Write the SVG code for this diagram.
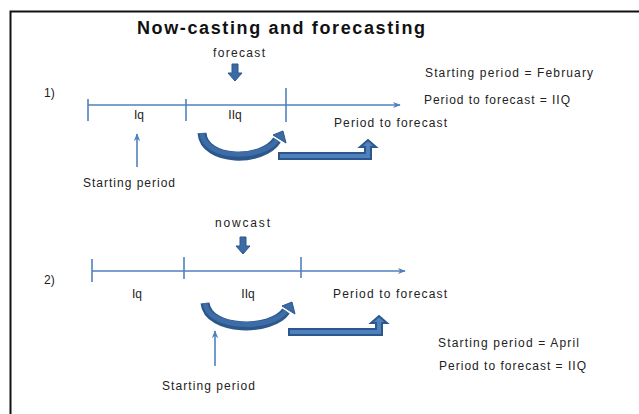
<svg xmlns="http://www.w3.org/2000/svg" width="639" height="414" viewBox="0 0 639 414">
<style>
text{font-family:"Liberation Sans",Arial,sans-serif;fill:#222;font-size:12px}
.title{font-size:18px;font-weight:bold;fill:#111}
.tl{stroke:#4F81BD;stroke-width:1.6;fill:none}
.blk{fill:#3B6AA4;stroke:#2C578C;stroke-width:1}
.thick{fill:#4F81BD;stroke:#2C578C;stroke-width:2}
</style>
<defs>
<marker id="ah" viewBox="0 0 10 10" refX="9" refY="5" markerWidth="8" markerHeight="8" orient="auto" markerUnits="userSpaceOnUse">
<path d="M0,1 L10,5 L0,9 L3,5 Z" fill="#4F81BD"/>
</marker>
</defs>
<rect x="10.5" y="11.5" width="640" height="420" fill="#fff" stroke="#111" stroke-width="2"/>
<text class="title" x="137" y="34" textLength="288" lengthAdjust="spacing">Now-casting and forecasting</text>

<g id="scenario1">
<text x="44" y="97">1)</text>
<text x="213" y="57" textLength="52" lengthAdjust="spacing">forecast</text>
<text x="425" y="77" textLength="168" lengthAdjust="spacing">Starting period = February</text>
<text x="424" y="104" textLength="146" lengthAdjust="spacing">Period to forecast = IIQ</text>
<text x="139" y="119" text-anchor="middle">Iq</text>
<text x="235" y="119" text-anchor="middle">IIq</text>
<text x="334" y="127" textLength="113" lengthAdjust="spacing">Period to forecast</text>
<text x="83" y="187" textLength="92" lengthAdjust="spacing">Starting period</text>
</g>

<g id="scenario2">
<text x="44" y="284">2)</text>
<text x="215" y="227" textLength="55" lengthAdjust="spacing">nowcast</text>
<text x="438" y="347" textLength="141" lengthAdjust="spacing">Starting period = April</text>
<text x="439" y="370" textLength="147" lengthAdjust="spacing">Period to forecast = IIQ</text>
<text x="137" y="298" text-anchor="middle">Iq</text>
<text x="248" y="298" text-anchor="middle">IIq</text>
<text x="333" y="298" textLength="114" lengthAdjust="spacing">Period to forecast</text>
<text x="162" y="390" textLength="93" lengthAdjust="spacing">Starting period</text>
</g>

<g id="connectors">
<!-- timeline 1 -->
<line class="tl" x1="88" y1="105" x2="400" y2="105" marker-end="url(#ah)"/>
<line class="tl" x1="88" y1="99" x2="88" y2="121"/>
<line class="tl" x1="186" y1="99" x2="186" y2="121"/>
<line class="tl" x1="286" y1="88" x2="286" y2="122"/>
<!-- forecast down arrow -->
<path class="blk" d="M232,64 H238 V73 H242 L235,81 L228,73 H232 Z"/>
<!-- starting period 1 up arrow -->
<line class="tl" x1="137" y1="167" x2="137" y2="134" marker-end="url(#ah)"/>
<!-- curved arrow 1 -->
<path d="M202,133 C204,162 262,163 277,140" fill="none" stroke="#2C578C" stroke-width="9"/>
<path d="M202,133 C204,160 262,160 277,140" fill="none" stroke="#3D6CA6" stroke-width="5"/>
<path class="blk" d="M283,131 L286,143 L273,135 Z"/>
<!-- bent arrow 1 -->
<path class="thick" d="M279,153 H365 V147 H360 L368,140 L376,147 H371 V159 H279 Z"/>

<!-- timeline 2 -->
<line class="tl" x1="92" y1="271" x2="405" y2="271" marker-end="url(#ah)"/>
<line class="tl" x1="92" y1="259" x2="92" y2="282"/>
<line class="tl" x1="184" y1="257" x2="184" y2="279"/>
<line class="tl" x1="301" y1="257" x2="301" y2="278"/>
<!-- nowcast down arrow -->
<path class="blk" d="M240,237 H246 V246 H250 L243,254 L236,246 H240 Z"/>
<!-- starting period 2 up arrow -->
<line class="tl" x1="215" y1="366" x2="215" y2="331" marker-end="url(#ah)"/>
<!-- curved arrow 2 -->
<path d="M205,303 C208,332 272,332 286,311" fill="none" stroke="#2C578C" stroke-width="9"/>
<path d="M205,303 C208,330 272,330 286,311" fill="none" stroke="#3D6CA6" stroke-width="5"/>
<path class="blk" d="M292,302 L295,314 L282,306 Z"/>
<!-- bent arrow 2 -->
<path class="thick" d="M289,329 H376 V323 H371 L379,316 L387,323 H382 V335 H289 Z"/>
</g>
</svg>
